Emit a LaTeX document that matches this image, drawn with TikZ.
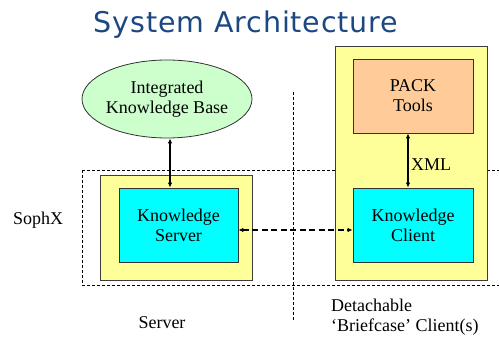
\documentclass[tikz,border=0pt]{standalone}
\usepackage{fontspec}
\setmainfont{Liberation Serif}
\newfontfamily\titlefont[LetterSpace=3]{DejaVu Sans}
\usetikzlibrary{shapes.geometric,arrows.meta}
\definecolor{titleblue}{RGB}{28,72,130}
\definecolor{kbgreen}{RGB}{204,255,204}
\definecolor{hostyellow}{RGB}{255,255,153}
\definecolor{packorange}{RGB}{255,204,153}
\definecolor{kcyan}{RGB}{0,255,255}
\definecolor{edgegray}{RGB}{60,60,60}
\begin{document}
\begin{tikzpicture}[x=1pt,y=-1pt,
  lbl/.style={font=\fontsize{18}{20}\selectfont, align=center, text=black},
  host/.style={draw=edgegray, fill=hostyellow, line width=0.8pt},
  comp/.style={draw=black!80, line width=0.8pt, lbl},
  link/.style={line width=1.7pt, {Latex[length=5pt,width=4.5pt]}-{Latex[length=5pt,width=4.5pt]}},
  zone/.style={dashed, line width=0.6pt, dash pattern=on 3pt off 2pt}]
  \useasboundingbox (0,0) rectangle (499,339);

  % title
  \node[font=\titlefont\fontsize{28.5}{30}\selectfont, text=titleblue, anchor=base] (title) at (246,33) {System Architecture};

  % partition lines
  \draw[zone] (82,170) -- (499,170);
  \draw[zone] (82,285) -- (499,285);
  \draw[zone] (82,170) -- (82,285);
  \draw[zone] (293,92) -- (293,320);

  % host machines
  \fill[host] (100,175) rectangle (252,280);
  \fill[host] (335,46) rectangle (487,280);

  % components
  \node[draw=black!80, fill=kbgreen, ellipse, minimum width=170pt, minimum height=78pt, inner sep=0pt, line width=0.8pt] (kb) at (167,99) {};
  \node[lbl] (kbtext) at (kb.center) {Integrated\\Knowledge Base};
  \node[comp, fill=kcyan, minimum width=119pt, minimum height=74pt] (ks) at (178.5,225) {Knowledge\\Server};
  \node[comp, fill=packorange, minimum width=120pt, minimum height=74pt] (pack) at (413,96) {PACK\\Tools};
  \node[comp, fill=kcyan, minimum width=120pt, minimum height=74pt] (kc) at (413,225) {Knowledge\\Client};

  % connectors
  \draw[link] (kb.south -| 170,0) -- (ks.north -| 170,0);
  \draw[link] (pack.south -| 408,0) -- (kc.north -| 408,0);
  \node[lbl, anchor=west, inner sep=0pt] (xml) at (411,165) {XML};
  \path (ks.east) ++(0,5) coordinate (ksr) (kc.west) ++(0,5) coordinate (kcl);
  \draw[link, dash pattern=on 6pt off 3.5pt] (ksr) -- (kcl);

  % region labels
  \node[lbl, anchor=west, inner sep=0pt] (sophx) at (13,220) {SophX};
  \node[lbl] (srv) at (162,323) {Server};
  \node[lbl, align=left, anchor=north west, inner sep=0pt] (det) at (331,299) {Detachable\\`Briefcase' Client(s)};
\end{tikzpicture}
\end{document}
